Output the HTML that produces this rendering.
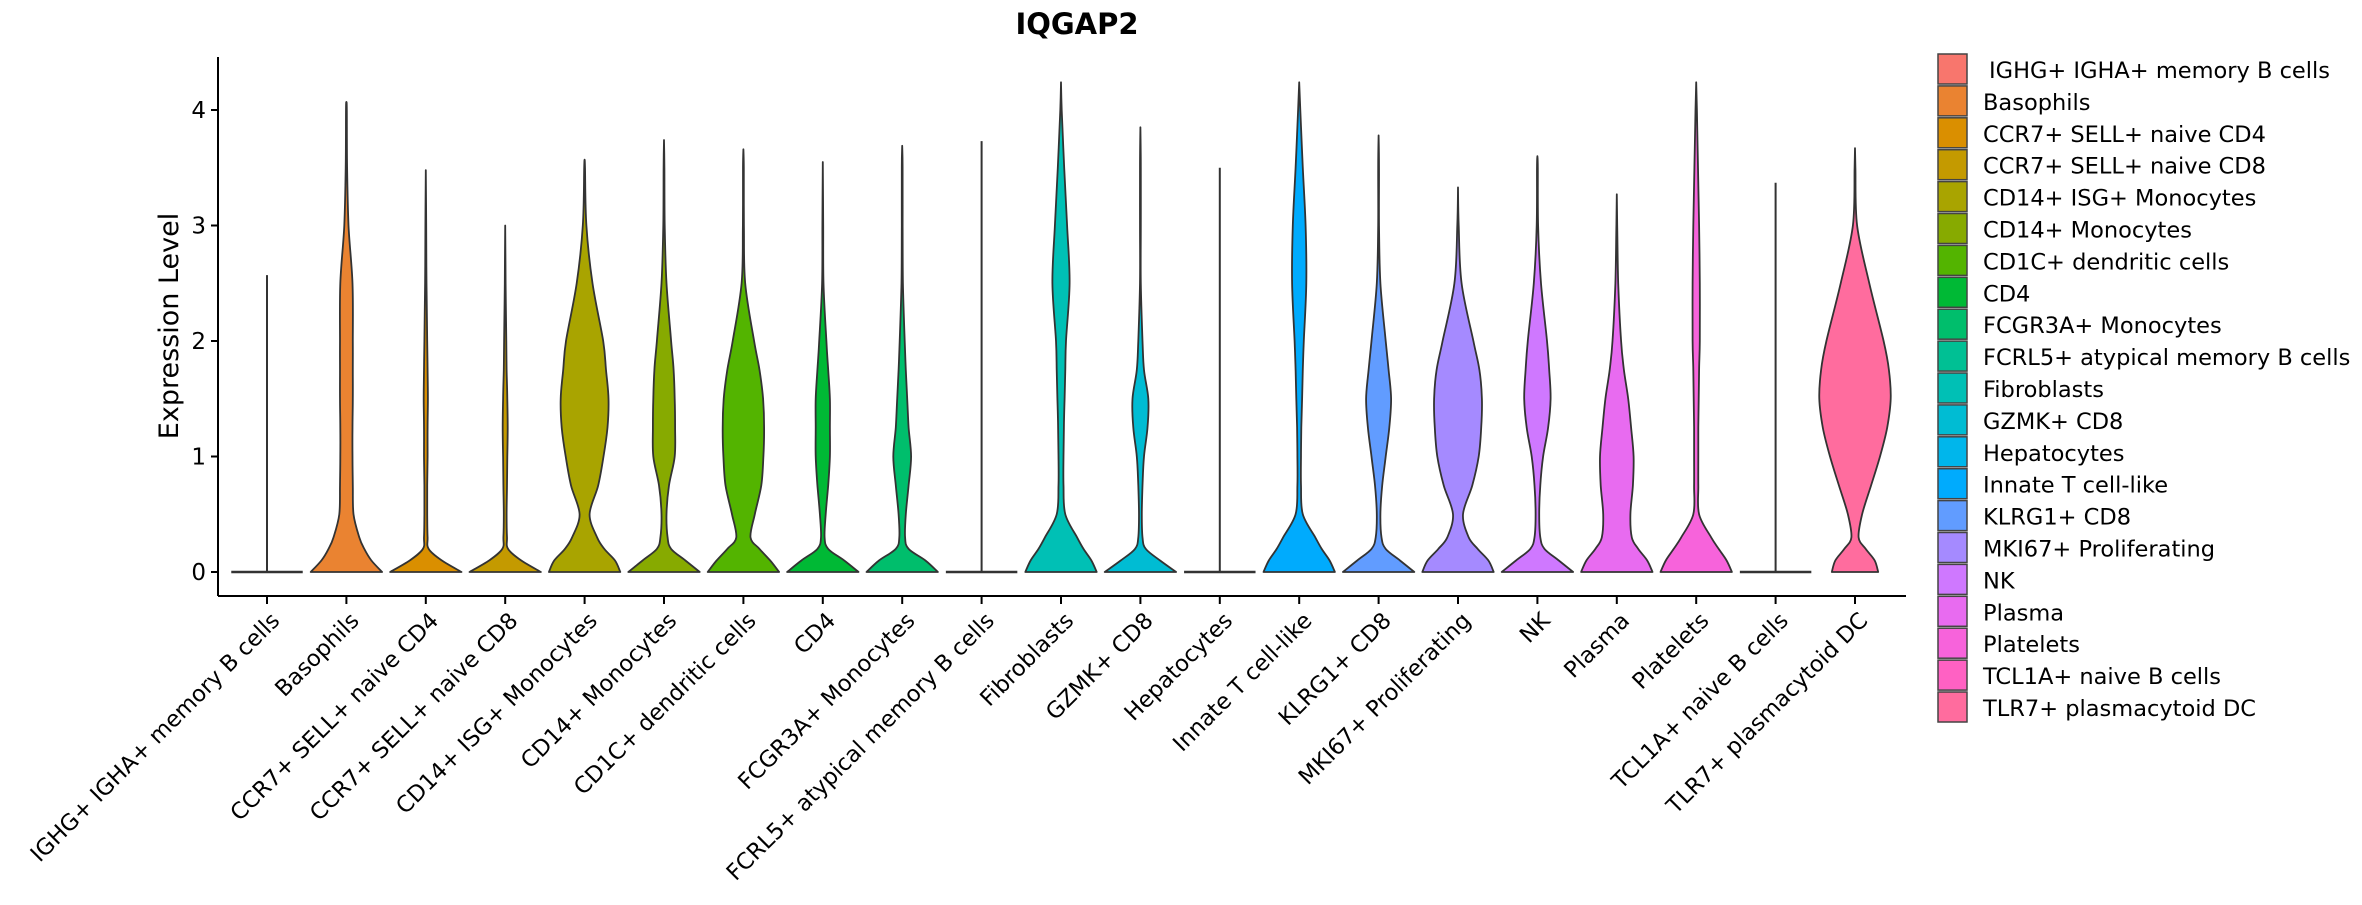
<!DOCTYPE html>
<html><head><meta charset="utf-8"><style>
html,body{margin:0;padding:0;background:#fff;}
svg text{font-family:"DejaVu Sans","Liberation Sans",sans-serif;fill:#000;}
</style></head><body>
<svg id="chart" width="2362" height="900" viewBox="0 0 2362 900">
<text x="1077" y="34" font-size="29" font-weight="bold" text-anchor="middle">IQGAP2</text>
<text transform="translate(178,326) rotate(-90)" font-size="27" text-anchor="middle">Expression Level</text>
<g id="yaxis"></g>
<g id="violins"></g>
<g id="xaxis"></g>
<g id="legend"></g>
</svg>
<script>
const categories = ["IGHG+ IGHA+ memory B cells","Basophils","CCR7+ SELL+ naive CD4","CCR7+ SELL+ naive CD8","CD14+ ISG+ Monocytes","CD14+ Monocytes","CD1C+ dendritic cells","CD4","FCGR3A+ Monocytes","FCRL5+ atypical memory B cells","Fibroblasts","GZMK+ CD8","Hepatocytes","Innate T cell-like","KLRG1+ CD8","MKI67+ Proliferating","NK","Plasma","Platelets","TCL1A+ naive B cells","TLR7+ plasmacytoid DC"];
const colors = ["#F8766D","#EA8331","#DA8F00","#C49A00","#A9A400","#87AA00","#53B400","#00B935","#00BE6C","#00C094","#00C0B5","#00BCD3","#00B6EB","#00ABFD","#619CFF","#A58AFF","#CF78FF","#E86BF0","#F763DB","#FF61C3","#FF6C9E"];
const maxValues = [2.57,4.07,3.48,3.0,3.57,3.74,3.66,3.55,3.69,3.73,4.24,3.85,3.5,4.24,3.78,3.33,3.6,3.27,4.24,3.37,3.67];
const flatViolin = [true,false,false,false,false,false,false,false,false,true,false,false,true,false,false,false,false,false,false,true,false];
const densityLevels = [0,0.1,0.2,0.3,0.5,0.75,1,1.25,1.5,1.75,2,2.5,3,3.5,4];
const widths = [
[1,0,0,0,0,0,0,0,0,0,0,0,0,0,0],
[1,0.7,0.5,0.36,0.2,0.18,0.17,0.17,0.18,0.18,0.18,0.17,0.06,0.02,0.01],
[1,0.45,0.08,0.05,0.04,0.04,0.05,0.05,0.06,0.05,0.04,0.02,0.01,0.005,0],
[1,0.45,0.08,0.05,0.04,0.05,0.06,0.07,0.06,0.04,0.03,0.01,0.005,0,0],
[1,0.85,0.55,0.35,0.14,0.38,0.53,0.64,0.67,0.6,0.52,0.22,0.05,0.01,0],
[1,0.6,0.2,0.1,0.07,0.14,0.3,0.31,0.3,0.27,0.2,0.07,0.02,0.01,0],
[1,0.75,0.45,0.2,0.32,0.5,0.56,0.58,0.55,0.45,0.3,0.05,0.015,0.01,0],
[1,0.6,0.15,0.05,0.08,0.15,0.2,0.2,0.2,0.15,0.1,0.02,0.01,0.005,0],
[1,0.65,0.18,0.08,0.1,0.18,0.25,0.18,0.14,0.1,0.07,0.02,0.01,0.005,0],
[1,0,0,0,0,0,0,0,0,0,0,0,0,0,0],
[1,0.85,0.63,0.45,0.12,0.07,0.07,0.08,0.1,0.12,0.14,0.24,0.17,0.09,0.02],
[1,0.55,0.15,0.06,0.04,0.06,0.1,0.2,0.22,0.1,0.06,0.01,0.01,0.005,0],
[1,0,0,0,0,0,0,0,0,0,0,0,0,0,0],
[1,0.85,0.63,0.45,0.1,0.05,0.05,0.06,0.08,0.1,0.13,0.2,0.18,0.1,0.03],
[1,0.6,0.2,0.08,0.05,0.1,0.2,0.3,0.35,0.28,0.2,0.05,0.01,0.005,0],
[1,0.85,0.55,0.3,0.14,0.4,0.58,0.65,0.67,0.6,0.43,0.1,0.02,0,0],
[1,0.6,0.2,0.08,0.05,0.08,0.16,0.3,0.37,0.33,0.27,0.1,0.02,0.005,0],
[1,0.85,0.6,0.42,0.38,0.45,0.47,0.4,0.32,0.2,0.12,0.04,0.01,0,0],
[1,0.85,0.63,0.42,0.08,0.06,0.06,0.06,0.07,0.08,0.1,0.1,0.08,0.05,0.02],
[1,0,0,0,0,0,0,0,0,0,0,0,0,0,0],
[0.65,0.55,0.3,0.1,0.2,0.45,0.7,0.9,1,0.95,0.8,0.4,0.06,0.01,0]
];
const yTicks = [0,1,2,3,4];

const NS="http://www.w3.org/2000/svg";
const X0=218, X1=1906, Ytop=57, Ybot=596;
const step=(1855-267)/20;
function xScale(i){return 267+i*step;}
function yScale(v){return 572-v*115.5;}
const halfMax=step*0.45;
function mk(tag,attrs,parent){const e=document.createElementNS(NS,tag);for(const k in attrs)e.setAttribute(k,attrs[k]);parent.appendChild(e);return e;}

const yaxis=document.getElementById('yaxis');
mk('line',{x1:X0,y1:Ytop,x2:X0,y2:Ybot,stroke:'#000','stroke-width':2},yaxis);
yTicks.forEach(t=>{
  const y=yScale(t);
  const tk=mk('line',{x1:X0-7,y1:y,x2:X0,y2:y,stroke:'#000','stroke-width':2},yaxis);
  
  
  const lb=mk('text',{x:X0-12,y:y+8,'font-size':23,'text-anchor':'end'},yaxis);
  lb.textContent=t;
  
  
});

const xaxis=document.getElementById('xaxis');
mk('line',{x1:X0,y1:Ybot,x2:X1,y2:Ybot,stroke:'#000','stroke-width':2},xaxis);
categories.forEach((c,i)=>{
  const x=xScale(i);
  const tk=mk('line',{x1:x,y1:Ybot,x2:x,y2:Ybot+8,stroke:'#000','stroke-width':2},xaxis);
  
  
  const lb=mk('text',{transform:`translate(${x+2},${Ybot+14}) rotate(-45)`,'font-size':22.5,'text-anchor':'end',dy:'0.75em'},xaxis);
  lb.textContent=c;
  
  
});

function smooth(pts){
  let d='';
  for(let i=0;i<pts.length-1;i++){
    const p0=pts[Math.max(0,i-1)],p1=pts[i],p2=pts[i+1],p3=pts[Math.min(pts.length-1,i+2)];
    const c1x=p1[0]+(p2[0]-p0[0])/6,c1y=p1[1]+(p2[1]-p0[1])/6;
    const c2x=p2[0]-(p3[0]-p1[0])/6,c2y=p2[1]-(p3[1]-p1[1])/6;
    d+=` C${c1x.toFixed(1)},${c1y.toFixed(1)} ${c2x.toFixed(1)},${c2y.toFixed(1)} ${p2[0].toFixed(1)},${p2[1].toFixed(1)}`;
  }
  return d;
}
const vg=document.getElementById('violins');
categories.forEach((c,i)=>{
  const cx=xScale(i), mx=maxValues[i];
  if(flatViolin[i]){
    const g=mk('g',{},vg);
    
    
    mk('line',{x1:cx,y1:yScale(0),x2:cx,y2:yScale(mx),stroke:'#333','stroke-width':2},g);
    mk('line',{x1:cx-halfMax,y1:yScale(0),x2:cx+halfMax,y2:yScale(0),stroke:'#333','stroke-width':2.5},g);
    return;
  }
  const pts=[];
  densityLevels.forEach((lv,k)=>{ if(lv<mx-0.05) pts.push([lv,Math.max(widths[i][k],0.012)]); });
  pts.push([mx,0]);
  const right=pts.map(p=>[cx+p[1]*halfMax,yScale(p[0])]);
  const left=pts.slice().reverse().map(p=>[cx-p[1]*halfMax,yScale(p[0])]);
  let d=`M${left[left.length-1][0]},${left[left.length-1][1]} L${right[0][0]},${right[0][1]}`;
  d+=smooth(right);
  d+=smooth(left);
  d+=' Z';
  const p=mk('path',{d:d,fill:colors[i],stroke:'#333','stroke-width':1.8,'stroke-linejoin':'round'},vg);
  
  
});

const lg=document.getElementById('legend');
categories.forEach((c,i)=>{
  const y=54+i*31.9;
  const r=mk('rect',{x:1938,y:y,width:29,height:30,fill:colors[i],stroke:'#444','stroke-width':1.5},lg);
  
  
  const t=mk('text',{x:i===0?1989:1983,y:y+24,'font-size':22.5},lg);
  t.textContent=c;
  
  
});
</script>
</body></html>
